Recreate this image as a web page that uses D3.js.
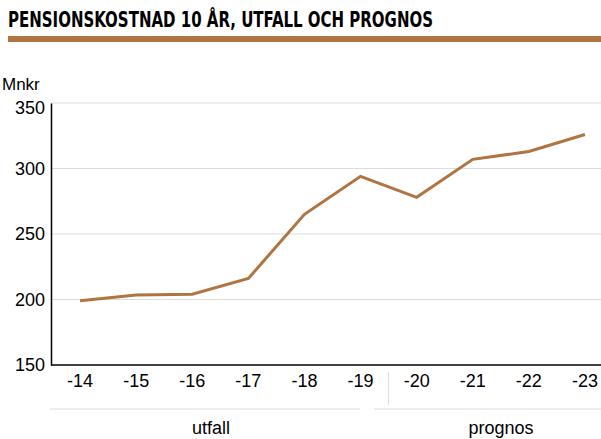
<!DOCTYPE html>
<html>
<head>
<meta charset="utf-8">
<script src="https://cdn.jsdelivr.net/npm/d3@7"></script>
<style>
  body { margin: 0; background: #fff; }
  text { font-family: "Liberation Sans", Arial, sans-serif; }
</style>
</head>
<body>
<svg id="chart" width="601" height="439"></svg>
<script>
// Data
var years = ['-14', '-15', '-16', '-17', '-18', '-19', '-20', '-21', '-22', '-23'];
var values = [199, 203.5, 204, 216, 265, 294, 278, 307, 313, 326];
var yTicks = [150, 200, 250, 300, 350];
var groups = ['utfall', 'prognos'];

var brown = '#b07440';
var svg = d3.select('#chart');

// Title and rule under it
svg.append('text')
    .attr('x', 8).attr('y', 27)
    .attr('textLength', 425).attr('lengthAdjust', 'spacingAndGlyphs')
    .style('font-family', '"DejaVu Sans Condensed", "DejaVu Sans", sans-serif')
    .style('font-weight', 'bold').style('font-size', '21px')
    .text('PENSIONSKOSTNAD 10 ÅR, UTFALL OCH PROGNOS');
svg.append('rect').attr('x', 8).attr('y', 36).attr('width', 593).attr('height', 6).attr('fill', brown);

// Scales
var x = d3.scaleBand().domain(years).range([52, 613]);
var y = d3.scaleLinear().domain([150, 350]).range([365, 103]);

// Grid
svg.append('g').selectAll('line')
    .data(yTicks.slice(1))
    .enter().append('line')
    .attr('x1', 51).attr('x2', 601)
    .attr('y1', function(d){ return y(d); })
    .attr('y2', function(d){ return y(d); })
    .attr('stroke', '#dcdcdc').attr('stroke-width', 1);

// Y axis
var yAxis = svg.append('g')
    .attr('transform', 'translate(51,0)')
    .call(d3.axisLeft(y).tickValues(yTicks).tickSize(0).tickPadding(6));
yAxis.select('.domain').attr('stroke', '#000').attr('stroke-width', 1.5);
yAxis.selectAll('text').style('font-size', '18px').attr('fill', '#000')
    .style('font-family', '"Liberation Sans", Arial, sans-serif');
// top label sits a bit lower so it clears the unit label
yAxis.selectAll('.tick').filter(function(d){ return d === 350; })
    .select('text').attr('y', 5);

svg.append('text').attr('x', 2).attr('y', 90).style('font-size', '17px').text('Mnkr');

// X axis
var xAxis = svg.append('g')
    .attr('transform', 'translate(0,365)')
    .call(d3.axisBottom(x).tickSize(0).tickPadding(9));
xAxis.select('.domain').attr('d', 'M51,0H601').attr('stroke', '#000').attr('stroke-width', 1.5);
xAxis.selectAll('text').style('font-size', '18px').attr('fill', '#000')
    .style('font-family', '"Liberation Sans Narrow", "Liberation Sans", Arial, sans-serif');

// Separator between utfall and prognos
var sepX = (x('-19') + x('-20') + x.bandwidth()) / 2;
svg.append('line')
    .attr('x1', sepX).attr('x2', sepX).attr('y1', 372).attr('y2', 405)
    .attr('stroke', '#dcdcdc');

// Group brackets and labels
var groupSpans = [[50, 360], [374, 601]];
groups.forEach(function(g, i){
    svg.append('line')
        .attr('x1', groupSpans[i][0]).attr('x2', groupSpans[i][1])
        .attr('y1', 409).attr('y2', 409)
        .attr('stroke', '#dcdcdc');
    svg.append('text')
        .attr('x', i === 0 ? 211 : 501).attr('y', 434)
        .attr('text-anchor', 'middle')
        .style('font-size', '18px')
        .text(g);
});

// Line
var line = d3.line()
    .x(function(d, i){ return x(years[i]) + x.bandwidth() / 2; })
    .y(function(d){ return y(d); });
svg.append('path')
    .datum(values)
    .attr('d', line)
    .attr('fill', 'none')
    .attr('stroke', brown)
    .attr('stroke-width', 3);
</script>
</body>
</html>
